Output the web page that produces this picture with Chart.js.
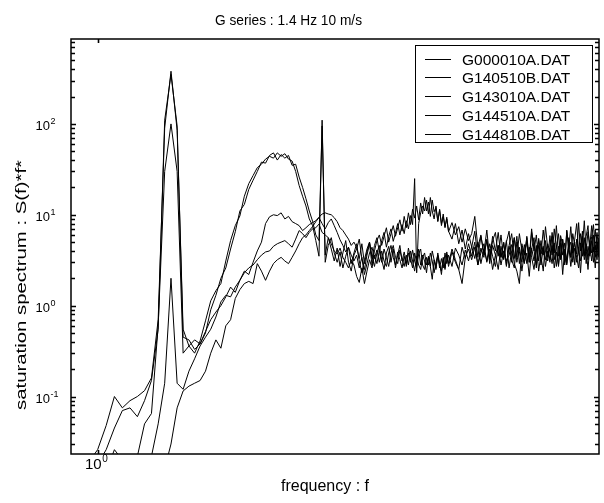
<!DOCTYPE html>
<html>
<head>
<meta charset="utf-8">
<script src="https://cdn.jsdelivr.net/npm/chart.js@4/dist/chart.umd.min.js"></script>
<style>
  html, body { margin: 0; padding: 0; background: #fff; }
</style>
</head>
<body>
<canvas id="chart" width="604" height="503"></canvas>
<script>
// frequency bins (Hz)
const freq = [
  0.88, 0.92, 0.96, 1.00, 1.04, 1.08, 1.12, 1.16, 1.20, 1.24,
  1.28, 1.32, 1.36, 1.40, 1.44, 1.48, 1.52, 1.56, 1.60, 1.64,
  1.68, 1.72, 1.76, 1.80, 1.84, 1.88, 1.92, 1.96, 2.00, 2.04,
  2.08, 2.12, 2.16, 2.20, 2.24, 2.28, 2.32, 2.36, 2.40, 2.44,
  2.48, 2.52, 2.56, 2.60, 2.64, 2.68, 2.72, 2.76, 2.80, 2.84,
  2.88, 2.92, 2.96, 3.00, 3.04, 3.08, 3.12, 3.16, 3.20, 3.24,
  3.28, 3.32, 3.36, 3.40, 3.44, 3.48, 3.52, 3.56, 3.60, 3.64,
  3.68, 3.72, 3.76, 3.80, 3.84, 3.88, 3.92, 3.96, 4.00, 4.04,
  4.08, 4.12, 4.16, 4.20, 4.24, 4.28, 4.32, 4.36, 4.40, 4.44,
  4.48, 4.52, 4.56, 4.60, 4.64, 4.68, 4.72, 4.76, 4.80, 4.84,
  4.88, 4.92, 4.96, 5.00, 5.08, 5.16, 5.24, 5.32, 5.40, 5.48,
  5.56, 5.64, 5.72, 5.80, 5.88, 5.96, 6.04, 6.12, 6.20, 6.28,
  6.36, 6.44, 6.52, 6.60, 6.68, 6.76, 6.84, 6.92, 7.00, 7.08,
  7.16, 7.24, 7.32, 7.40, 7.48, 7.56, 7.64, 7.72, 7.80, 7.88,
  7.96, 8.04, 8.12, 8.20, 8.28, 8.36, 8.44, 8.52, 8.60, 8.68,
  8.76, 8.84, 8.92, 9.00, 9.08, 9.16, 9.24, 9.32, 9.40, 9.48,
  9.56, 9.64, 9.72, 9.80, 9.88, 9.96
];

// saturation spectrum S(f)*f^4 per run
const g000010a = [
  0.001, 0.0012, 0.0015, 0.002, 0.0025, 0.003, 0.004, 0.005, 0.006, 0.008,
  0.01, 0.012, 0.016, 0.03, 0.075, 0.115, 0.13, 0.14, 0.15, 0.19,
  0.3, 0.42, 0.34, 0.6, 0.7, 1.2, 1.5, 1.75, 1.85, 1.75,
  2.9, 2.4, 1.9, 2.4, 2.9, 3.2, 3.4, 3.1, 2.9, 3.4,
  4.0, 4.8, 5.6, 6.0, 6.7, 7.4, 8.4, 9.3, 8.0, 7.0,
  8.2, 9.0, 7.6, 6.4, 5.3, 4.6, 3.9, 4.4, 3.6, 3.1,
  3.6, 2.6, 3.4, 2.2, 2.9, 3.8, 4.4, 3.3, 4.1, 3.0,
  4.0, 3.1, 2.7, 3.8, 4.6, 3.4, 2.8, 3.9, 3.2, 2.6,
  3.5, 2.7, 3.8, 3.0, 4.1, 3.1, 2.6, 3.7, 4.2, 2.8,
  2.5, 3.4, 2.8, 3.8, 3.1, 2.3, 3.0, 3.6, 2.6, 3.3,
  2.6, 3.8, 2.9, 3.6, 2.7, 4.3, 3.6, 2.8, 4.1, 3.1,
  4.5, 3.3, 5.0, 2.9, 4.2, 3.1, 4.8, 3.5, 2.7, 4.6,
  3.4, 4.9, 2.8, 4.5, 3.2, 2.6, 5.0, 3.9, 3.0, 4.7,
  2.9, 4.4, 3.4, 2.5, 4.0, 5.2, 2.8, 4.3, 3.2, 4.8,
  3.9, 2.9, 4.9, 2.7, 4.5, 3.4, 5.4, 3.5, 2.8, 4.3,
  5.0, 3.0, 4.3, 3.4, 2.6, 4.9, 3.5, 5.6, 2.9, 4.5,
  3.5, 5.2, 3.0, 4.6, 3.2, 5.3
];

const g140510b = [
  0.003, 0.004, 0.005, 0.006, 0.008, 0.010, 0.012, 0.016, 0.022, 0.05,
  0.065, 0.6, 30, 100, 30, 0.3, 0.36, 0.42, 0.38, 0.52,
  0.7, 0.85, 1.0, 1.25, 1.6, 1.4, 1.9, 2.4, 2.2, 3.0,
  4.0, 5.0, 8.0, 9.5, 10, 9.8, 10.5, 9.0, 9.6, 8.4,
  8.0, 7.6, 6.7, 7.2, 7.8, 8.2, 8.6, 9.4, 10.2, 10.5,
  10.2, 10.0, 9.3, 8.4, 7.2, 6.7, 6.0, 5.4, 4.6, 5.0,
  4.4, 3.3, 4.8, 2.9, 3.9, 5.0, 3.5, 2.7, 3.8, 4.6,
  3.2, 2.5, 3.8, 4.5, 3.0, 4.2, 2.6, 3.6, 4.6, 3.1,
  3.9, 2.9, 4.3, 3.3, 2.6, 3.8, 3.0, 4.2, 2.8, 3.6,
  3.1, 2.3, 3.5, 2.7, 4.0, 3.2, 2.5, 3.8, 2.9, 2.2,
  3.4, 2.6, 3.9, 2.9, 4.2, 3.2, 2.5, 4.4, 3.3, 4.8,
  3.5, 5.0, 2.8, 4.3, 3.4, 5.4, 2.9, 4.6, 3.6, 2.5,
  4.5, 3.2, 5.2, 2.6, 4.0, 5.6, 3.0, 4.4, 2.4, 3.8,
  5.0, 3.0, 4.2, 5.6, 2.8, 4.6, 3.5, 2.4, 5.2, 3.4,
  4.4, 5.8, 3.2, 4.6, 2.7, 5.4, 3.6, 4.9, 2.9, 5.6,
  3.4, 4.9, 2.8, 5.4, 3.8, 3.1, 5.8, 3.6, 4.8, 3.2,
  5.2, 3.8, 6.0, 3.4, 4.7, 3.6
];

const g143010a = [
  0.012, 0.015, 0.019, 0.026, 0.048, 0.10, 0.075, 0.09, 0.10, 0.116,
  0.16, 0.7, 90, 380, 85, 0.55, 0.36, 0.30, 0.41, 0.68,
  1.13, 1.46, 1.75, 3.1, 5.2, 7.6, 9.7, 16, 22, 27,
  33, 36, 41, 44, 42, 48, 44, 47, 41, 39,
  30, 21, 16, 12.5, 9, 7.6, 5.2, 3.5, 110, 3.0,
  4.6, 5.6, 3.8, 3.0, 3.9, 2.6, 3.5, 4.4, 2.9, 3.8,
  4.8, 3.1, 2.3, 3.2, 4.2, 5.0, 3.3, 4.6, 5.6, 3.9,
  5.2, 6.4, 4.4, 5.8, 7.0, 5.1, 6.3, 8.0, 6.0, 7.8,
  6.2, 8.6, 7.0, 9.8, 7.8, 25, 2.3, 8.0, 10.5, 12.5,
  11.0, 14.5, 10.2, 15.5, 11.0, 9.0, 12.5, 8.4, 11.5, 7.6,
  9.5, 7.4, 9.0, 6.5, 8.2, 6.0, 7.4, 5.0, 7.0, 5.2,
  6.2, 9.6, 4.4, 6.0, 3.6, 5.2, 3.3, 5.8, 4.0, 6.4,
  3.4, 5.0, 2.7, 4.6, 6.2, 3.3, 5.8, 2.9, 4.8, 3.6,
  5.6, 3.0, 6.4, 4.1, 2.6, 5.5, 3.7, 6.8, 4.0, 3.1,
  5.9, 3.6, 7.0, 4.4, 6.2, 3.2, 5.3, 2.8, 6.6, 4.2,
  7.4, 3.8, 5.4, 8.0, 3.9, 6.2, 4.4, 8.6, 4.0, 6.5,
  4.6, 7.6, 3.9, 6.8, 4.5, 5.6
];

const g144510a = [
  0.008, 0.010, 0.013, 0.018, 0.026, 0.045, 0.07, 0.075, 0.06, 0.09,
  0.15, 0.55, 110, 350, 95, 0.45, 0.42, 0.33, 0.38, 0.5,
  0.9, 1.3, 2.0, 2.6, 4.2, 6.5, 11, 13, 19, 24,
  30, 38, 37, 45, 48, 40, 46, 42, 45, 35,
  36, 26, 20, 15, 11, 8.5, 6.0, 5.2, 95, 3.6,
  5.6, 4.2, 3.1, 4.3, 2.7, 3.8, 5.2, 3.0, 2.4, 3.6,
  4.2, 5.4, 3.3, 2.5, 3.6, 4.8, 2.8, 4.0, 5.2, 6.0,
  4.6, 5.8, 7.2, 5.0, 6.2, 7.6, 5.8, 7.2, 8.8, 6.6,
  9.6, 7.2, 10.5, 7.8, 11.5, 9.2, 12.5, 8.8, 13.5, 10.2,
  15.5, 11.0, 13.8, 9.6, 14.5, 10.8, 12.0, 8.6, 11.2, 8.0,
  10.2, 7.2, 9.4, 6.6, 5.4, 8.0, 4.8, 6.8, 4.2, 6.2,
  4.4, 6.6, 3.4, 5.8, 3.8, 6.8, 3.2, 5.2, 6.4, 3.5,
  6.0, 3.3, 5.0, 6.6, 3.0, 5.6, 3.4, 6.2, 4.0, 2.9,
  5.8, 3.4, 7.0, 4.0, 6.0, 3.1, 5.2, 3.6, 7.4, 4.3,
  3.2, 6.4, 3.8, 7.6, 3.5, 5.9, 4.6, 3.0, 6.8, 4.2,
  3.4, 6.2, 4.6, 3.7, 8.2, 4.0, 6.6, 3.5, 5.8, 7.6,
  3.7, 5.8, 7.8, 4.1, 6.4, 3.9
];

const g144810b = [
  0.004, 0.005, 0.007, 0.01, 0.015, 0.026, 0.02, 0.016, 0.015, 0.018,
  0.022, 0.05, 0.14, 2.0, 0.14, 0.12, 0.19, 0.26, 0.36, 0.45,
  0.55, 0.75, 1.1, 1.3, 1.25, 1.6, 1.9, 2.3, 2.6, 2.8,
  3.2, 3.6, 3.9, 4.0, 4.5, 4.8, 5.0, 5.2, 4.8, 4.4,
  5.4, 6.7, 6.2, 5.6, 6.4, 7.0, 7.2, 7.9, 6.4, 6.0,
  5.6, 4.8, 4.0, 3.7, 4.3, 3.4, 3.0, 2.6, 3.2, 2.8,
  2.1, 1.8, 2.6, 1.75, 2.4, 3.2, 2.6, 3.6, 2.9, 4.0,
  3.0, 4.2, 3.4, 2.7, 3.8, 4.6, 3.4, 2.9, 4.1, 3.2,
  2.7, 3.6, 2.8, 4.0, 3.1, 2.4, 3.5, 2.8, 2.5, 3.4,
  3.8, 2.8, 3.4, 2.7, 1.95, 3.2, 2.6, 3.5, 2.8, 2.4,
  3.3, 2.5, 3.7, 2.7, 3.9, 3.0, 2.5, 1.75, 3.4, 4.2,
  3.2, 4.4, 2.8, 3.8, 4.8, 3.0, 4.2, 2.5, 3.6, 4.6,
  2.8, 4.0, 3.1, 3.6, 4.7, 2.9, 2.4, 1.75, 4.4, 3.0,
  3.8, 2.1, 4.3, 3.1, 4.6, 2.4, 3.7, 4.5, 2.7, 4.0,
  3.0, 4.6, 2.6, 3.9, 2.8, 4.9, 2.2, 4.2, 3.2, 4.5,
  2.7, 4.1, 5.0, 3.0, 4.4, 2.3, 4.8, 3.2, 4.2, 2.5,
  4.6, 3.1, 4.4, 2.6, 5.0, 3.4
];

const fileNames = ['G000010A.DAT', 'G140510B.DAT', 'G143010A.DAT', 'G144510A.DAT', 'G144810B.DAT'];
const runs = [g000010a, g140510b, g143010a, g144510a, g144810b];

// labelled decades on each axis
const xTickValues = [1];
const yTickValues = [0.1, 1, 10, 100];

const titleText = 'G series : 1.4 Hz 10 m/s';
const xTitle = 'frequency : f';
const yTitle = 'saturation spectrum : S(f)*f*';

const FONT = '"Liberation Sans", Arial, Helvetica, sans-serif';

// draw a string, optionally squeezed/stretched to a target width
function putText(ctx, str, x, y, size, align, width) {
  ctx.save();
  ctx.font = size + 'px ' + FONT;
  ctx.textBaseline = 'alphabetic';
  const w = ctx.measureText(str).width;
  const sx = width ? width / w : 1;
  ctx.translate(x, y);
  ctx.scale(sx, 1);
  let dx = 0;
  if (align === 'center') dx = -w / 2;
  else if (align === 'right') dx = -w;
  ctx.textAlign = 'left';
  ctx.fillText(str, dx, 0);
  ctx.restore();
}

// "10" with a raised exponent, anchored at the join of base and exponent
function putPower(ctx, exp, x, y, size, supSize) {
  ctx.save();
  ctx.textBaseline = 'alphabetic';
  ctx.font = size + 'px ' + FONT;
  ctx.textAlign = 'right';
  ctx.fillText('10', x, y);
  ctx.font = supSize + 'px ' + FONT;
  ctx.textAlign = 'left';
  ctx.fillText(String(exp), x + 0.5, y - size * 0.45);
  ctx.restore();
}

const axesBox = {
  id: 'axesBox',
  afterDraw(chart) {
    const { ctx, chartArea: a, scales: { x, y } } = chart;
    ctx.save();
    ctx.strokeStyle = '#000';
    ctx.fillStyle = '#000';

    // inward tick marks, minor ticks on the log y axis
    ctx.lineWidth = 1.6;
    ctx.beginPath();
    for (let k = -3; k <= 3; k++) {
      for (let n = 1; n <= 9; n++) {
        const v = n * Math.pow(10, k);
        if (v < y.min || v > y.max) continue;
        const py = Math.round(y.getPixelForValue(v)) + 0.5;
        const len = n === 1 ? 5 : 4;
        ctx.moveTo(a.left, py); ctx.lineTo(a.left + len, py);
        ctx.moveTo(a.right, py); ctx.lineTo(a.right - len, py);
      }
    }
    xTickValues.forEach(v => {
      const px = Math.round(x.getPixelForValue(v)) + 0.5;
      ctx.moveTo(px, a.top); ctx.lineTo(px, a.top + 4);
      ctx.moveTo(px, a.bottom); ctx.lineTo(px, a.bottom - 4);
    });
    ctx.stroke();

    ctx.lineWidth = 1.5;
    ctx.strokeRect(a.left, a.top, a.right - a.left, a.bottom - a.top);

    // tick labels
    yTickValues.forEach(v => {
      const py = y.getPixelForValue(v);
      putPower(ctx, Math.round(Math.log10(v)), 50, py + 6, 13, 9);
    });
    xTickValues.forEach(v => {
      const px = x.getPixelForValue(v);
      putPower(ctx, Math.round(Math.log10(v)), px + 4, 469, 15, 10);
    });

    // titles
    putText(ctx, titleText, 288.5, 25, 15, 'center', 147);
    putText(ctx, xTitle, 325, 491, 16, 'center');
    ctx.save();
    ctx.translate(26, 285);
    ctx.rotate(-Math.PI / 2);
    putText(ctx, yTitle, 0, 0, 15.5, 'center', 250);
    ctx.restore();

    // legend box
    const lx = 415, ly = 45, lw = 177, lh = 97;
    ctx.fillStyle = '#fff';
    ctx.fillRect(lx, ly, lw, lh);
    ctx.lineWidth = 1;
    ctx.strokeStyle = '#000';
    ctx.strokeRect(lx + 0.5, ly + 0.5, lw, lh);
    ctx.fillStyle = '#000';
    chart.data.datasets.forEach((ds, i) => {
      const ry = 58.5 + i * 18.8;
      ctx.beginPath();
      ctx.moveTo(425, Math.round(ry) + 0.5);
      ctx.lineTo(451, Math.round(ry) + 0.5);
      ctx.stroke();
      putText(ctx, ds.label, 462, ry + 6, 15.5, 'left');
    });
    ctx.restore();
  }
};

const datasets = runs.map((vals, i) => ({
  label: fileNames[i],
  data: freq.map((f, j) => ({ x: f, y: vals[j] })),
  showLine: true,
  borderColor: '#000',
  borderWidth: 1,
  pointRadius: 0,
  tension: 0
}));

const ctx = document.getElementById('chart').getContext('2d');
const chart = new Chart(ctx, {
  type: 'scatter',
  data: { datasets },
  options: {
    responsive: false,
    animation: false,
    layout: { padding: { left: 71, top: 39, right: 5, bottom: 49 } },
    plugins: { legend: { display: false }, tooltip: { enabled: false } },
    scales: {
      x: { type: 'logarithmic', min: 0.885, max: 9.97, display: false },
      y: { type: 'logarithmic', min: 0.0233, max: 860, display: false }
    }
  },
  plugins: [axesBox]
});
</script>
</body>
</html>
